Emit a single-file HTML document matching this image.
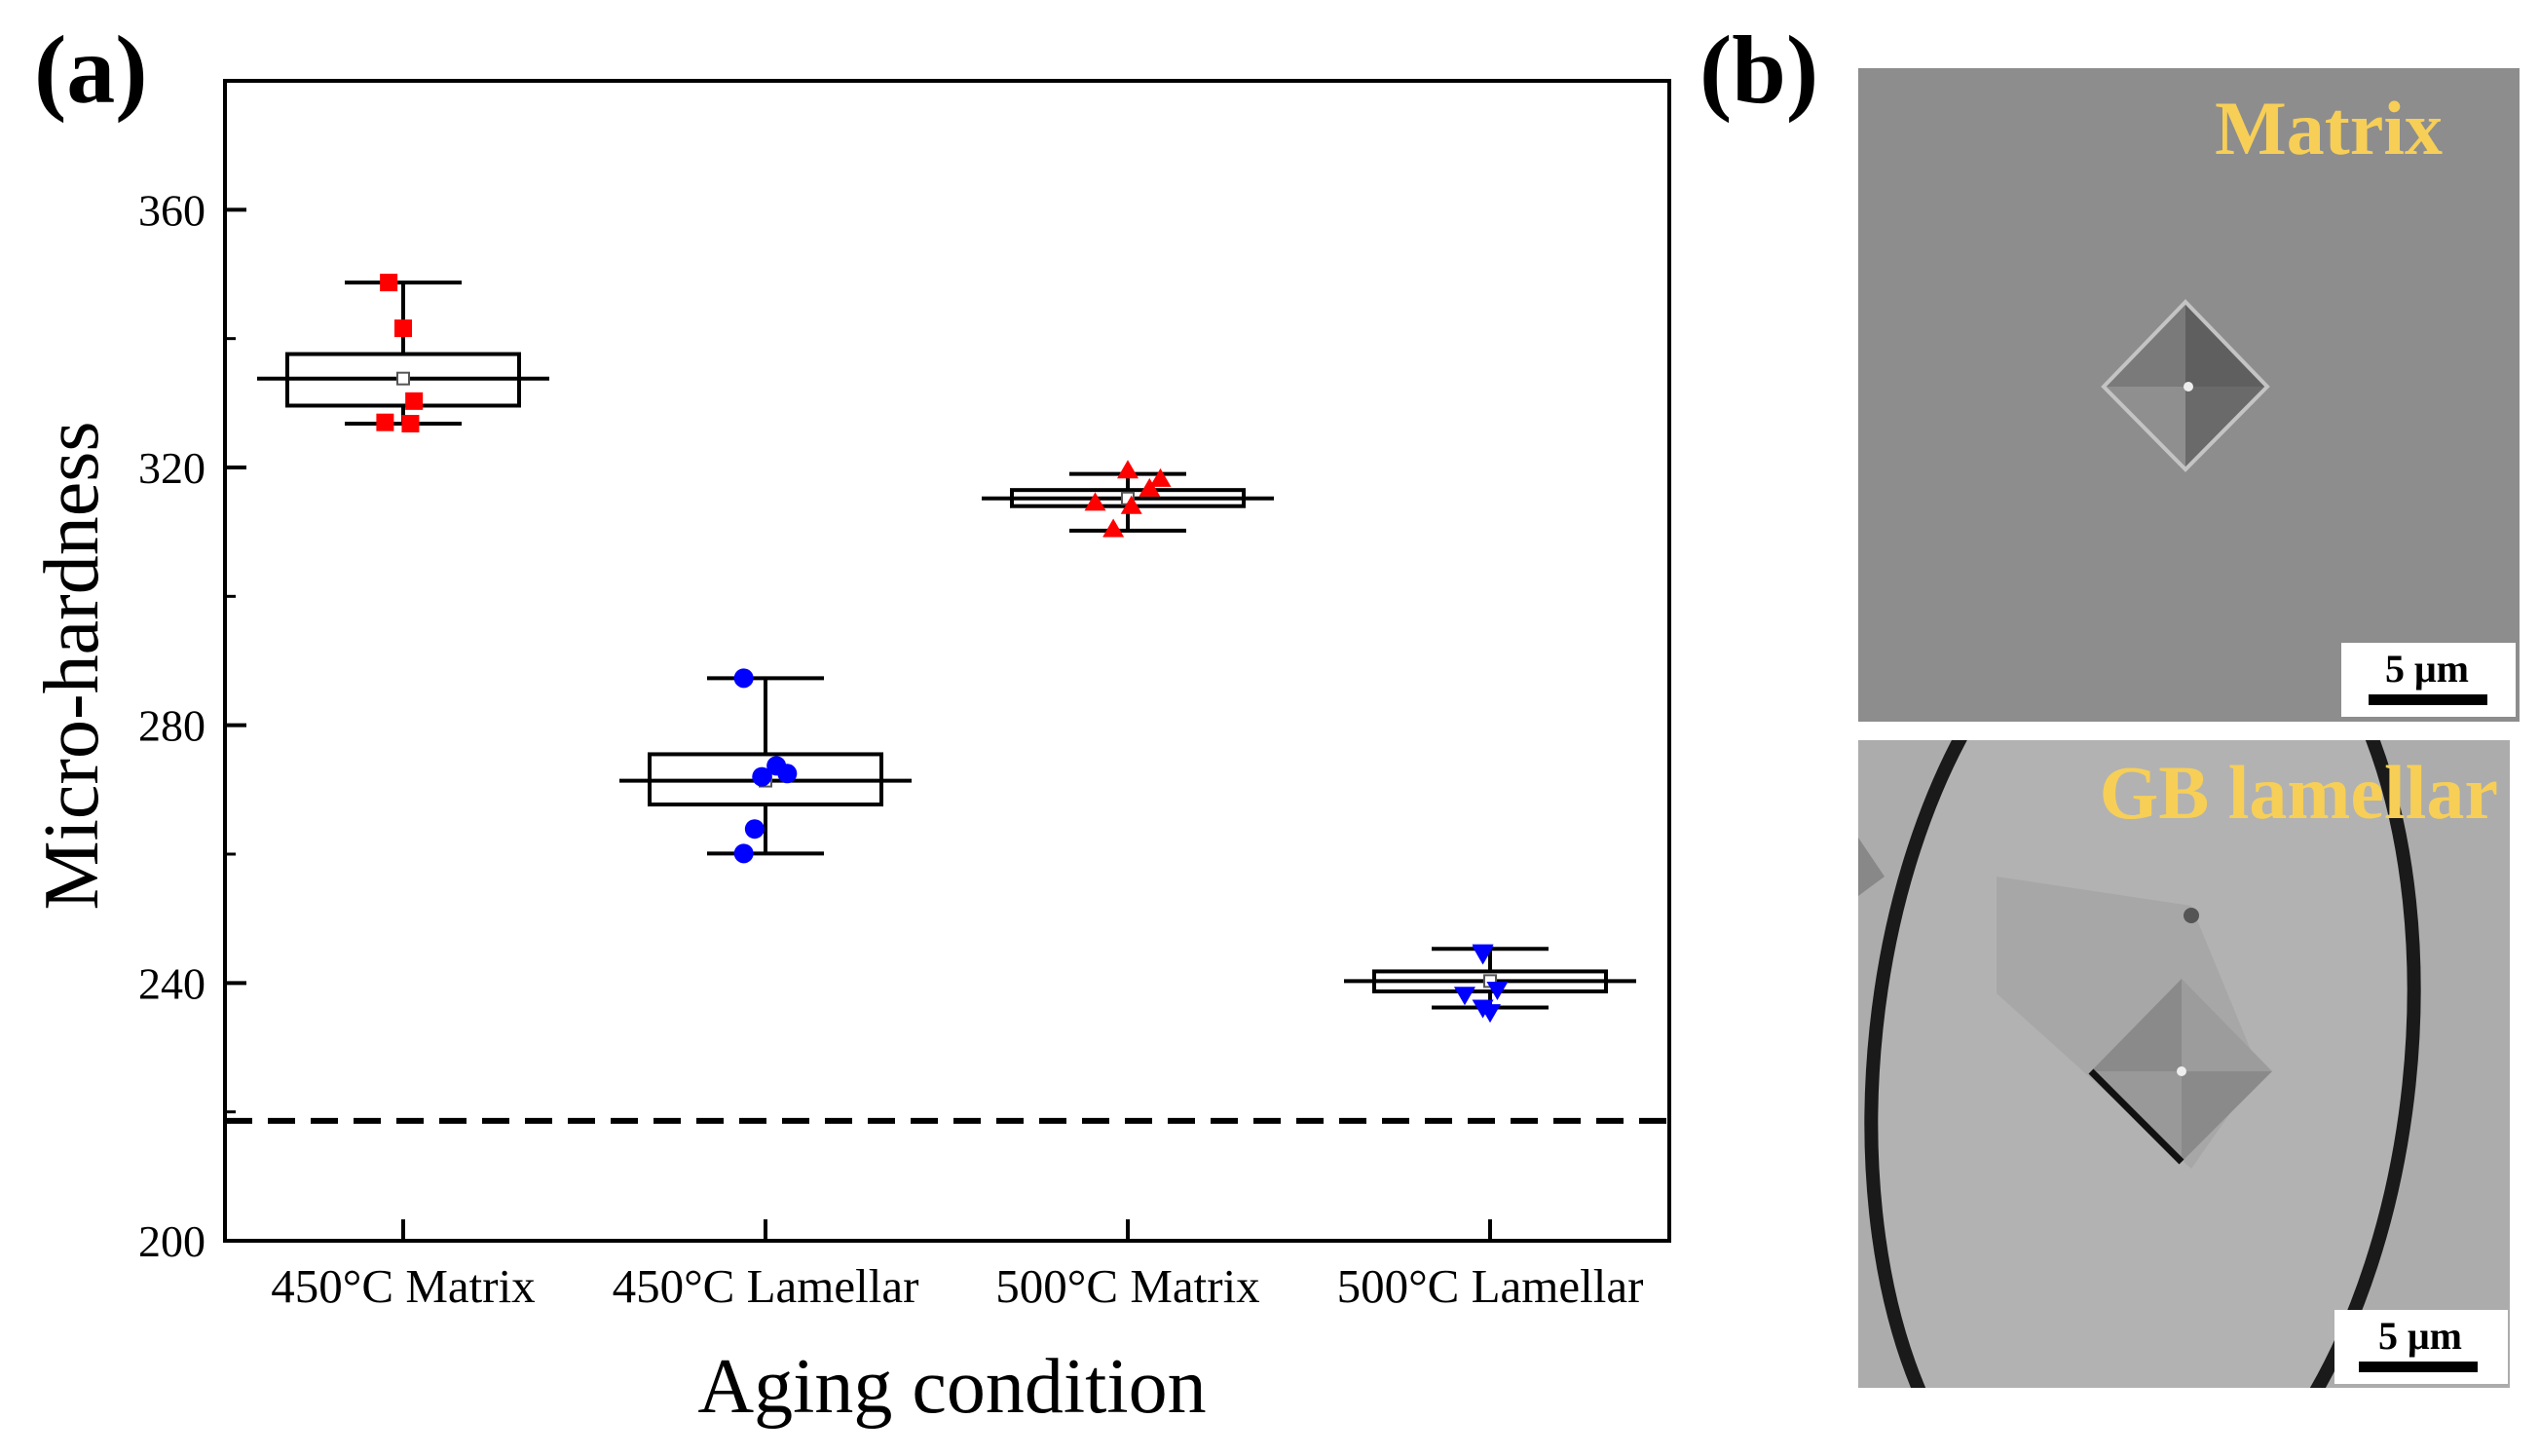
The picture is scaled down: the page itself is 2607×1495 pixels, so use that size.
<!DOCTYPE html>
<html><head><meta charset="utf-8"><style>
html,body{margin:0;padding:0;background:#fff;width:2607px;height:1495px;overflow:hidden;}
svg{display:block;font-family:"Liberation Serif",serif;}
</style></head><body>
<svg id="fig" width="2607" height="1495" viewBox="0 0 2607 1495" xmlns="http://www.w3.org/2000/svg">
<text x="35" y="105" font-size="100" font-weight="bold">(a)</text>
<text x="1745" y="105" font-size="100" font-weight="bold">(b)</text>
<g id="chart"></g>
<g id="imgs">
  <defs>
    <clipPath id="c1"><rect x="1908" y="70" width="679" height="671"/></clipPath>
    <clipPath id="c2"><rect x="1908" y="760" width="669" height="665"/></clipPath>
  </defs>
  <g>
    <rect x="1908" y="70" width="679" height="671" fill="#8d8d8d"/>
    <g clip-path="url(#c1)">
      <polygon points="2244,310 2244,397 2160,397" fill="#7a7a7a"/>
      <polygon points="2244,310 2328,397 2244,397" fill="#5f5f5f"/>
      <polygon points="2160,397 2244,397 2244,482" fill="#8f8f8f"/>
      <polygon points="2244,397 2328,397 2244,482" fill="#6a6a6a"/>
      <polygon points="2244,310 2328,397 2244,482 2160,397" fill="none" stroke="#c4c4c4" stroke-width="4"/>
      <circle cx="2247" cy="397" r="5" fill="#eee"/>
    </g>
    <text x="2508" y="158" text-anchor="end" font-size="78" font-weight="bold" fill="#f7cf57">Matrix</text>
    <rect x="2404" y="660" width="179" height="76" fill="#fff"/>
    <text x="2492" y="700" text-anchor="middle" font-size="40" font-weight="bold">5 μm</text>
    <rect x="2432" y="713" width="122" height="11" fill="#000"/>
  </g>
  <g>
    <rect x="1908" y="760" width="669" height="665" fill="#acacac"/>
    <g clip-path="url(#c2)">
      <ellipse cx="2200" cy="1085" rx="275" ry="510" transform="rotate(6 2200 1085)" fill="#b2b2b2" stroke="#1a1a1a" stroke-width="14"/>
      <polygon points="1908,860 1935,900 1908,920" fill="#888"/>
      <path d="M2050,900 L2250,930 L2320,1100 L2250,1200 L2050,1020 Z" fill="#a0a0a0" opacity="0.6"/>
      <polygon points="2240,1005 2240,1100 2147,1100" fill="#8a8a8a"/>
      <polygon points="2240,1005 2333,1100 2240,1100" fill="#9c9c9c"/>
      <polygon points="2147,1100 2240,1100 2240,1193" fill="#999"/>
      <polygon points="2240,1100 2333,1100 2240,1193" fill="#8a8a8a"/>
      <path d="M2147,1100 L2240,1193" stroke="#111" stroke-width="7"/>
      <circle cx="2240" cy="1100" r="5" fill="#eee"/>
      <circle cx="2250" cy="940" r="8" fill="#555"/>
    </g>
    <text x="2565" y="840" text-anchor="end" font-size="78" font-weight="bold" fill="#f7cf57">GB lamellar</text>
    <rect x="2397" y="1345" width="178" height="76" fill="#fff"/>
    <text x="2485" y="1385" text-anchor="middle" font-size="40" font-weight="bold">5 μm</text>
    <rect x="2422" y="1398" width="122" height="11" fill="#000"/>
  </g>
</g>
</svg>
<script>
const categories = ["450°C Matrix", "450°C Lamellar", "500°C Matrix", "500°C Lamellar"];
const whiskerHigh = [348.7, 287.3, 319.0, 245.3];
const boxTop = [337.6, 275.5, 316.5, 241.8];
const meanLine = [333.8, 271.4, 315.2, 240.3];
const boxBottom = [329.6, 267.7, 314.0, 238.7];
const whiskerLow = [326.8, 260.1, 310.2, 236.2];
const points = [
  [348.7, 341.6, 330.3, 327.0, 326.8],
  [287.3, 272.0, 273.7, 272.5, 263.9, 260.1],
  [319.5, 318.2, 316.7, 314.5, 314.0, 310.4],
  [244.8, 244.5, 238.2, 239.0, 236.2, 235.5]
];
const jitter = [
  [-0.04, 0.0, 0.03, -0.05, 0.02],
  [-0.06, -0.01, 0.03, 0.06, -0.03, -0.06],
  [0.0, 0.09, 0.06, -0.09, 0.01, -0.04],
  [-0.02, -0.02, -0.07, 0.02, -0.02, 0.0]
];
const yTicks = [200, 240, 280, 320, 360];
const yMinor = [220, 260, 300, 340, 380];
const refLine = 218.6;

const NS = "http://www.w3.org/2000/svg";
const g = document.getElementById("chart");
const L = 231, R = 1714, T = 83, B = 1274;
const yMin = 200, yMax = 380;
const y = v => B - (v - yMin) / (yMax - yMin) * (B - T);
const x = i => 414 + i * ((1530 - 414) / 3);
const unit = (1530 - 414) / 3;
function mk(tag, attrs, parent) {
  const e = document.createElementNS(NS, tag);
  for (const k in attrs) e.setAttribute(k, attrs[k]);
  (parent || g).appendChild(e);
  return e;
}
const frame = mk("rect", {x: L, y: T, width: R - L, height: B - T, fill: "none", stroke: "#000", "stroke-width": 4});


yTicks.forEach(v => {
  const t = mk("line", {x1: L, x2: L + 22, y1: y(v), y2: y(v), stroke: "#000", "stroke-width": 4});
  
  
  const lb = mk("text", {x: L - 20, y: y(v) + 16, "text-anchor": "end", "font-size": 46});
  lb.textContent = v;
  
  
});
yMinor.forEach(v => {
  const t = mk("line", {x1: L, x2: L + 11, y1: y(v), y2: y(v), stroke: "#000", "stroke-width": 3});
  
  
});
categories.forEach((c, i) => {
  const t = mk("line", {x1: x(i), x2: x(i), y1: B, y2: B - 22, stroke: "#000", "stroke-width": 4});
  
  
  const lb = mk("text", {x: x(i), y: B + 63, "text-anchor": "middle", "font-size": 49});
  lb.textContent = c;
  
  
});
const yt = mk("text", {x: 0, y: 0, "text-anchor": "middle", "font-size": 80, transform: "translate(100," + ((T + B) / 2 + 5) + ") rotate(-90)"});
yt.textContent = "Micro-hardness";


const xt = mk("text", {x: (L + R) / 2 + 5, y: 1450, "text-anchor": "middle", "font-size": 80});
xt.textContent = "Aging condition";


const rl = mk("line", {x1: L, x2: R, y1: y(refLine), y2: y(refLine), stroke: "#000", "stroke-width": 6, "stroke-dasharray": "28 16"});


const colors = ["#ff0000", "#0000ff", "#ff0000", "#0000ff"];
const shapes = ["square", "circle", "triangle", "down-triangle"];
categories.forEach((c, i) => {
  const cx = x(i);
  const bg = mk("g", {});
  
  
  const sw = 4;
  mk("line", {x1: cx, x2: cx, y1: y(whiskerHigh[i]), y2: y(boxTop[i]), stroke: "#000", "stroke-width": sw}, bg);
  mk("line", {x1: cx, x2: cx, y1: y(boxBottom[i]), y2: y(whiskerLow[i]), stroke: "#000", "stroke-width": sw}, bg);
  mk("line", {x1: cx - 60, x2: cx + 60, y1: y(whiskerHigh[i]), y2: y(whiskerHigh[i]), stroke: "#000", "stroke-width": sw}, bg);
  mk("line", {x1: cx - 60, x2: cx + 60, y1: y(whiskerLow[i]), y2: y(whiskerLow[i]), stroke: "#000", "stroke-width": sw}, bg);
  mk("rect", {x: cx - 119, y: y(boxTop[i]), width: 238, height: y(boxBottom[i]) - y(boxTop[i]), fill: "none", stroke: "#000", "stroke-width": sw}, bg);
  mk("line", {x1: cx - 150, x2: cx + 150, y1: y(meanLine[i]), y2: y(meanLine[i]), stroke: "#000", "stroke-width": sw}, bg);
  mk("rect", {x: cx - 6, y: y(meanLine[i]) - 6, width: 12, height: 12, fill: "#fff", stroke: "#555", "stroke-width": 2}, bg);
  points[i].forEach((v, j) => {
    const px = cx + jitter[i][j] * unit, py = y(v);
    let m;
    if (shapes[i] === "square") m = mk("rect", {x: px - 9, y: py - 9, width: 18, height: 18, fill: colors[i]}, bg);
    else if (shapes[i] === "circle") m = mk("circle", {cx: px, cy: py, r: 10, fill: colors[i]}, bg);
    else if (shapes[i] === "triangle") m = mk("polygon", {points: `${px},${py - 11} ${px + 11},${py + 8} ${px - 11},${py + 8}`, fill: colors[i]}, bg);
    else m = mk("polygon", {points: `${px},${py + 11} ${px + 11},${py - 8} ${px - 11},${py - 8}`, fill: colors[i]}, bg);
    
    
  });
});
</script>
</body></html>
